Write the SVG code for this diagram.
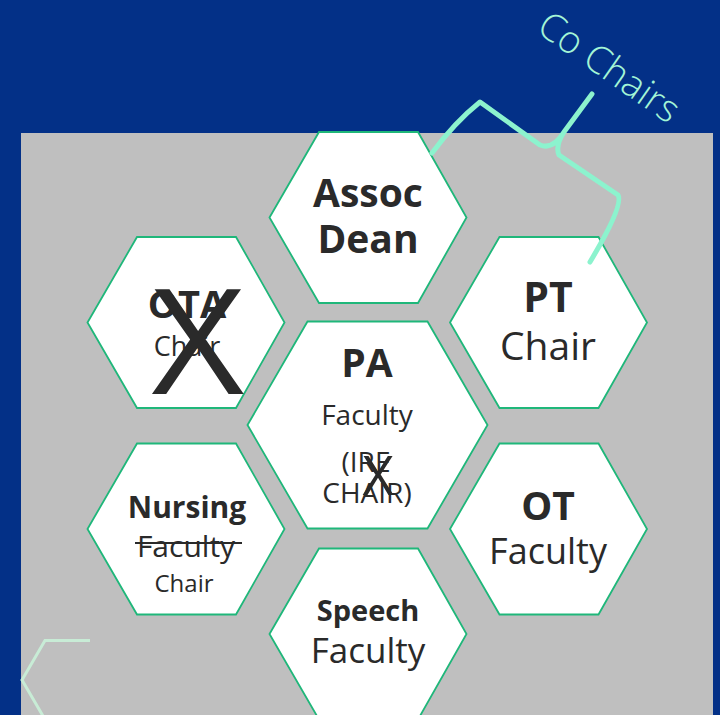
<svg xmlns="http://www.w3.org/2000/svg" xmlns:xlink="http://www.w3.org/1999/xlink" width="720" height="715" viewBox="0 0 720 715">
<style>
.hex{fill:#ffffff;stroke:#1fb77a;stroke-width:1.8}
.t{font-family:"Open Sans","Liberation Sans",sans-serif;fill:#2a2a2a;text-anchor:middle}
.b{font-weight:700}
.brace{fill:none;stroke:#8cf3ce;stroke-width:5;stroke-linecap:round;stroke-linejoin:round}
</style>
<defs>
<polygon id="hs" points="-98.5,0 -49,-85.5 50,-85.5 98.5,0 50,85.5 -49,85.5"/>
<polygon id="hl" points="-120,0 -60,-103.5 60,-103.5 120,0 60,103.5 -60,103.5"/>
</defs>
<rect x="0" y="0" width="720" height="715" fill="#033087"/>
<rect x="21" y="133" width="692" height="582" fill="#bfbfbf"/>
<polyline points="90,640.5 45,640.5 22,680 43,716" fill="none" stroke="#c8ecd6" stroke-width="3"/>

<g id="assoc-dean">
<use xlink:href="#hs" x="368" y="217.5" class="hex"/>
<text class="t b" x="368" y="207" font-size="39">Assoc</text>
<text class="t b" x="368" y="253" font-size="39">Dean</text>
</g>
<g id="ota-chair">
<use xlink:href="#hs" x="186" y="322.5" class="hex"/>
<text class="t b" x="187" y="318" font-size="38">OTA</text>
<text class="t" x="187" y="356" font-size="27">Chair</text>
<text class="t" x="198" y="394" font-size="146" fill="#262626" transform="translate(198 0) scale(1.1 1) translate(-198 0)">X</text>
</g>
<g id="pt-chair">
<use xlink:href="#hs" x="548.5" y="322.5" class="hex"/>
<text class="t b" x="548" y="312" font-size="41">PT</text>
<text class="t" x="548" y="360" font-size="39">Chair</text>
</g>
<g id="pa-faculty">
<use xlink:href="#hl" x="367.5" y="425" class="hex"/>
<text class="t b" x="367" y="377" font-size="39">PA</text>
<text class="t" x="367" y="425" font-size="28">Faculty</text>
<text class="t" x="366" y="472" font-size="28">(IRE</text>
<text class="t" x="367" y="503" font-size="28">CHAIR)</text>
<text class="t" x="378" y="495" font-size="54" fill="#262626">X</text>
</g>
<g id="nursing-chair">
<use xlink:href="#hs" x="186" y="529" class="hex"/>
<text class="t b" x="187" y="518" font-size="30">Nursing</text>
<text class="t" x="186" y="557" font-size="30">Faculty</text>
<line x1="135" y1="543" x2="242" y2="543" stroke="#2a2a2a" stroke-width="2"/>
<text class="t" x="184" y="592" font-size="24">Chair</text>
</g>
<g id="ot-faculty">
<use xlink:href="#hs" x="548.5" y="529" class="hex"/>
<text class="t b" x="548" y="520" font-size="39">OT</text>
<text class="t" x="548" y="564" font-size="36">Faculty</text>
</g>
<g id="speech-faculty">
<use xlink:href="#hs" x="368" y="634" class="hex"/>
<text class="t b" x="368" y="621" font-size="29">Speech</text>
<text class="t" x="368" y="663" font-size="35">Faculty</text>
</g>

<g id="connectors">
<path class="brace" d="M432,153 Q455,122 480,102 L540,145 Q553,150 564,132 L592,94 M564,132 Q555,146 559,155 L618,195 Q624,205 590,262"/>
</g>
<text x="535" y="31" font-family="'Open Sans','Liberation Sans',sans-serif" font-size="38" font-weight="300" fill="#a4f5d6" transform="rotate(35 535 31)">Co Chairs</text>
</svg>
